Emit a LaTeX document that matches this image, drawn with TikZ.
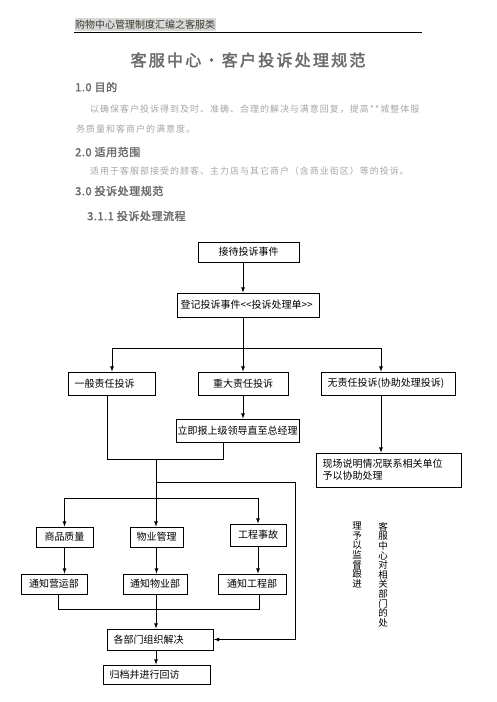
\documentclass[tikz,border=0pt]{standalone}
\usepackage{fontspec}
\usepackage{xcolor}
\newfontfamily\cjk{Noto Sans CJK SC}
\newfontfamily\cjkwide{Noto Sans CJK SC}[LetterSpace=11]
\newfontfamily\cjkhead{Noto Sans CJK SC}[FakeBold=2.2,LetterSpace=5]
\newfontfamily\cjktitle{Noto Sans CJK SC}[FakeBold=2.2,LetterSpace=14]
\definecolor{headgray}{HTML}{6A6A6A}
\definecolor{bodygray}{HTML}{A6A6A6}
\definecolor{hilite}{HTML}{D9D9D9}
\definecolor{hdtext}{HTML}{3C3C30}
\usetikzlibrary{arrows}

\begin{document}
\begin{tikzpicture}[x=1pt,y=-1pt]
        \tikzset{box/.style = {draw,line width=0.8pt,inner xsep=0pt,inner ysep=0pt,align=center,font=\cjk\fontsize{10}{12}\selectfont}}
        \tikzset{lbox/.style = {box,align=left,inner xsep=6pt}}
        \tikzset{edge/.style = {->,> = latex,line width=0.8pt}}
        \tikzset{line/.style = {line width=0.8pt}}
        \tikzset{heading/.style = {anchor=west,inner sep=0pt,text=headgray,font=\cjkhead\fontsize{11}{13}\selectfont}}
        \tikzset{para/.style = {anchor=west,inner sep=0pt,text=bodygray,font=\cjkwide\fontsize{9}{11}\selectfont}}
        \tikzset{vtext/.style = {anchor=north,align=center,inner sep=0pt,font=\cjk\fontsize{9.5}{9.6}\selectfont}}
        \useasboundingbox (0,0) rectangle (496,702);
        % page head
        \node[anchor=west,fill=hilite,text=hdtext,inner xsep=0.5pt,inner ysep=1.5pt,font=\cjk\fontsize{10}{12}\selectfont] (head) at (74.5,24.5) {购物中心管理制度汇编之客服类};
        \draw[line] (74,32) -- (422,32);
        % title and text
        \node[text=headgray,font=\cjktitle\fontsize{16}{18}\selectfont] (title) at (248,60) {客服中心•客户投诉处理规范};
        \node[heading] (h1) at (75,87) {1.0 目的};
        \node[para] (p1a) at (90,109) {以确保客户投诉得到及时、准确、合理的解决与满意回复，提高**城整体服};
        \node[para] (p1b) at (76,129) {务质量和客商户的满意度。};
        \node[heading] (h2) at (75,152) {2.0 适用范围};
        \node[para] (p2) at (90,171) {适用于客服部接受的顾客、主力店与其它商户（含商业街区）等的投诉。};
        \node[heading] (h3) at (75,191) {3.0 投诉处理规范};
        \node[heading] (h31) at (87,216) {3.1.1 投诉处理流程};
        % vertices
        \node[box,minimum width=101,minimum height=20] (jd) at (248.5,252) {接待投诉事件};
        \node[lbox,inner xsep=3pt,text width=136,minimum height=24] (dj) at (248.5,305) {登记投诉事件<<投诉处理单>>};
        \node[lbox,text width=75,minimum height=23] (yb) at (112,383.5) {一般责任投诉};
        \node[box,minimum width=90,minimum height=23] (zd) at (243,383.5) {重大责任投诉};
        \node[lbox,text width=122,minimum height=23] (wz) at (388.5,383.5) {无责任投诉(协助处理投诉)};
        \node[box,minimum width=123,minimum height=23] (lj) at (237.5,430.5) {立即报上级领导直至总经理};
        \node[lbox,text width=133,minimum height=34] (xc) at (389,470) {现场说明情况联系相关单位\\予以协助处理};
        \node[box,minimum width=57,minimum height=20] (sp) at (64.5,537) {商品质量};
        \node[box,minimum width=53,minimum height=20] (wy) at (156.5,537) {物业管理};
        \node[box,minimum width=56,minimum height=22] (gc) at (258,535) {工程事故};
        \node[box,minimum width=66,minimum height=20] (ty) at (54,584) {通知营运部};
        \node[box,minimum width=64,minimum height=20] (twy) at (155,584) {通知物业部};
        \node[box,minimum width=68,minimum height=20] (tgc) at (252,584) {通知工程部};
        \node[lbox,text width=94,minimum height=21] (gb) at (160.5,639.5) {各部门组织解决};
        \node[lbox,text width=95,minimum height=19] (gd) at (157,674.5) {归档并进行回访};
        \node[vtext] (v1) at (383,522) {客\\服\\中\\心\\对\\相\\关\\部\\门\\的\\处};
        \node[vtext] (v2) at (357,522) {理\\予\\以\\监\\督\\跟\\进};
        % junctions
        \coordinate (b1) at (243,348);
        \coordinate (r1) at (381,348);
        \coordinate (m1) at (107,459);
        \coordinate (m2) at (223,459);
        \coordinate (m3) at (156,459);
        \coordinate (s1) at (156,482);
        \coordinate (s2) at (295,482);
        \coordinate (b2) at (156,498);
        \coordinate (j1) at (58,609);
        \coordinate (j2) at (259,609);
        \coordinate (j3) at (156,609);
        %edges
        \draw[edge] (jd.south -| zd) -- (dj.north -| zd);
        \draw[line] (dj.south -| b1) -- (b1);
        \draw[edge] (b1) -| (yb.north);
        \draw[edge] (b1) -- (zd.north);
        \draw[edge] (b1) -- (r1) -- (r1 |- wz.north);
        \draw[edge] (r1 |- wz.south) -- (r1 |- xc.north);
        \draw[edge] (zd.south) -- (zd.south |- lj.north);
        \draw[line] (m1 |- yb.south) -- (m1) -- (m2) -- (m2 |- lj.south);
        \draw[line] (m3) -- (b2);
        \draw[edge] (s1) -- (s2) |- (gb.east);
        \draw[edge] (b2) -| (sp.north);
        \draw[edge] (b2) -- (b2 |- wy.north);
        \draw[edge] (b2) -| (gc.north);
        \draw[edge] (sp.south) -- (sp.south |- ty.north);
        \draw[edge] (wy.south) -- (wy.south |- twy.north);
        \draw[edge] (gc.south) -- (gc.south |- tgc.north);
        \draw[line] (j1 |- ty.south) -- (j1) -- (j2) -- (j2 |- tgc.south);
        \draw[edge] (twy.south -| j3) -- (gb.north -| j3);
        \draw[edge] (gb.south -| j3) -- (gd.north -| j3);
\end{tikzpicture}
\end{document}
